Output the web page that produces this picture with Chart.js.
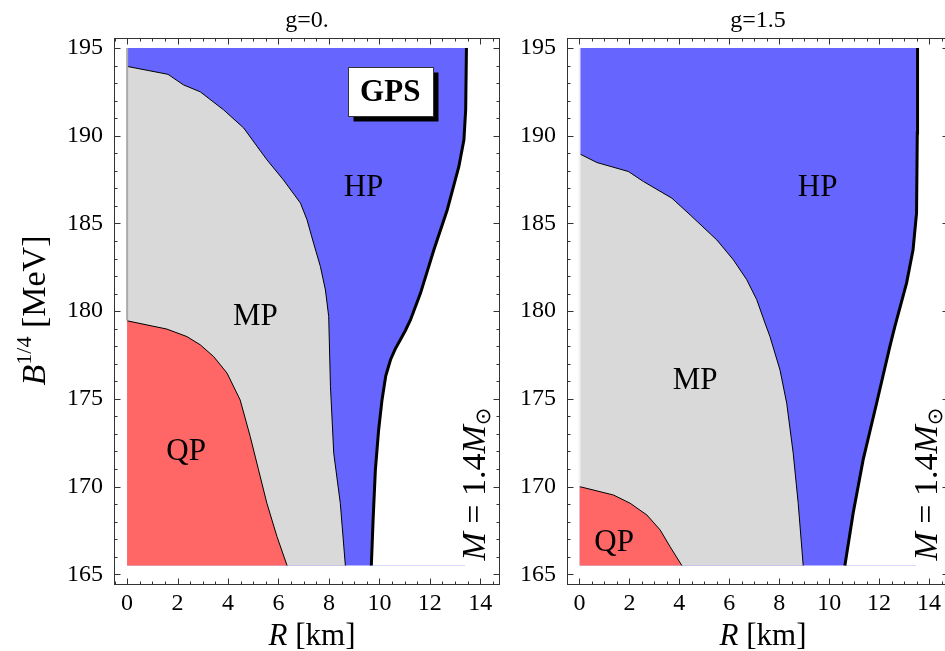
<!DOCTYPE html>
<html>
<head>
<meta charset="utf-8">
<script src="https://cdn.jsdelivr.net/npm/chart.js@4.4.0/dist/chart.umd.min.js"></script>
<style>
  html, body { margin: 0; padding: 0; background: #fff; overflow: hidden; width: 945px; height: 651px; }
  canvas { position: absolute; top: 0; }
  #panel1 { left: 0; }
  #panel2 { left: 453px; }
</style>
</head>
<body>
<canvas id="panel1" width="502" height="651"></canvas>
<canvas id="panel2" width="498" height="651"></canvas>
<script>
// B^(1/4) window covered by the phase regions
const bMin = 165.5;
const bMax = 195;

const xTicks = [0, 2, 4, 6, 8, 10, 12, 14];
const yTicks = [165, 170, 175, 180, 185, 190, 195];

// g = 0.  (R in km, B^(1/4) in MeV)
const qp1R = [0, 1.57, 2.37, 2.9, 3.43, 3.96, 4.48, 4.88, 5.21, 5.54, 5.94, 6.34];
const qp1B = [179.45, 178.98, 178.55, 178.08, 177.41, 176.47, 174.94, 172.85, 170.95, 169.05, 167.15, 165.5];
const mp1R = [0, 1.62, 2.23, 2.9, 3.82, 4.62, 5.54, 6.19, 6.87, 7.13, 7.39, 7.66, 7.86, 7.99, 8.06, 8.19, 8.45, 8.65];
const mp1B = [193.95, 193.5, 192.9, 192.5, 191.48, 190.44, 188.63, 187.49, 186.16, 185.21, 183.88, 182.55, 181.21, 179.7, 175.7, 171.9, 169.05, 165.5];
const hp1R = [9.68, 9.75, 9.84, 9.97, 10.1, 10.25, 10.44, 10.63, 10.83, 11.03, 11.23, 11.63, 12.16, 12.69, 13.15, 13.35, 13.42, 13.45];
const hp1B = [165.5, 168.1, 170.95, 173.24, 174.9, 176.3, 177.23, 177.85, 178.37, 178.9, 179.5, 181.03, 183.5, 185.78, 188.25, 189.77, 191.5, 195];

// g = 1.5
const qp2R = [0, 1.36, 2.03, 2.7, 3.23, 3.63, 4.1];
const qp2B = [170.0, 169.52, 169.05, 168.38, 167.53, 166.57, 165.5];
const mp2R = [0, 0.7, 1.96, 2.56, 3.7, 4.43, 5.5, 6.16, 6.7, 7.1, 7.43, 7.63, 8.03, 8.3, 8.56, 8.76, 8.96];
const mp2B = [188.97, 188.47, 187.96, 187.39, 186.44, 185.49, 184.06, 182.93, 181.79, 180.65, 179.32, 178.55, 176.65, 174.75, 171.9, 169.05, 165.5];
const hp2R = [10.63, 10.96, 11.36, 11.9, 12.43, 12.63, 13.1, 13.36, 13.5, 13.53, 13.54];
const hp2B = [165.5, 168.48, 171.52, 174.75, 177.98, 179.12, 181.6, 183.5, 185.59, 190.15, 195];

const BLUE = '#6666ff';
const GREY = '#d9d9d9';
const RED = '#ff6666';
const SERIF = '"Liberation Serif", "Times New Roman", serif';

const pts = (xs, ys) => xs.map((x, i) => ({ x, y: ys[i] }));

function region(xs, ys, color, line, width, order) {
    return {
        data: pts(xs, ys), backgroundColor: color, borderColor: line, borderWidth: width,
        pointRadius: 0, fill: { value: bMin }, order
    };
}

// text made of several runs (italic, superscript...) centred on cx
function drawParts(ctx, parts, cx, cy, angle) {
    ctx.save();
    ctx.translate(cx, cy);
    ctx.rotate(angle || 0);
    ctx.textAlign = 'left';
    ctx.textBaseline = 'alphabetic';
    let w = 0;
    parts.forEach(p => { ctx.font = p.font; p.w = ctx.measureText(p.text).width; w += p.w; });
    let pos = -w / 2;
    parts.forEach(p => { ctx.font = p.font; ctx.fillText(p.text, pos, p.dy || 0); pos += p.w; });
    ctx.restore();
}

const decor = {
    id: 'decor',
    afterDraw(chart, args, o) {
        const { ctx, chartArea: a, scales: { x, y } } = chart;
        ctx.save();

        // frame with inward ticks on all four sides
        const L = Math.round(a.left) + 0.5, R = Math.round(a.right) - 0.5;
        const T = Math.round(a.top) + 0.5, B = Math.round(a.bottom) - 0.5;
        ctx.strokeStyle = '#333';
        ctx.lineWidth = 1;
        ctx.strokeRect(L, T, R - L, B - T);
        ctx.beginPath();
        for (let k = Math.ceil(x.min * 2); k <= Math.floor(x.max * 2); k++) {
            const v = k / 2;
            const px = Math.round(x.getPixelForValue(v)) + 0.5;
            const len = xTicks.includes(v) ? 6 : 3;
            ctx.moveTo(px, B); ctx.lineTo(px, B - len);
            ctx.moveTo(px, T); ctx.lineTo(px, T + len);
        }
        for (let v = Math.ceil(y.min); v <= Math.floor(y.max); v++) {
            const py = Math.round(y.getPixelForValue(v)) + 0.5;
            const len = yTicks.includes(v) ? 6 : 3;
            ctx.moveTo(L, py); ctx.lineTo(L + len, py);
            ctx.moveTo(R, py); ctx.lineTo(R - len, py);
        }
        ctx.stroke();

        ctx.fillStyle = '#000';
        ctx.textAlign = 'center';
        ctx.textBaseline = 'alphabetic';

        // panel title
        ctx.font = '24px ' + SERIF;
        ctx.fillText(o.title, (a.left + a.right) / 2, 27);

        // phase labels
        ctx.font = '31px ' + SERIF;
        o.labels.forEach(l => ctx.fillText(l.text, x.getPixelForValue(l.x), y.getPixelForValue(l.y)));

        if (o.gps) {
            const cx = x.getPixelForValue(o.gps.x), cy = y.getPixelForValue(o.gps.y);
            const w = 85, h = 49;
            const bx = Math.round(cx - w / 2) + 0.5, by = Math.round(cy - h / 2) + 0.5;
            ctx.fillStyle = '#000';
            ctx.fillRect(bx + 5, by + 5, w, h);
            ctx.fillStyle = '#fff';
            ctx.fillRect(bx, by, w, h);
            ctx.strokeStyle = '#333';
            ctx.strokeRect(bx, by, w, h);
            ctx.fillStyle = '#000';
            ctx.font = 'bold 31px ' + SERIF;
            ctx.textBaseline = 'middle';
            ctx.fillText('GPS', cx, cy + 1);
        }

        // M = 1.4 M_sun, written upwards
        drawParts(ctx, [
            { text: 'M', font: 'italic 34px ' + SERIF },
            { text: ' = 1.4', font: '34px ' + SERIF },
            { text: 'M', font: 'italic 34px ' + SERIF },
            { text: '\u2299', font: '21px "DejaVu Sans"', dy: 5 }
        ], x.getPixelForValue(o.mass.x), y.getPixelForValue(o.mass.y), -Math.PI / 2);

        // axis titles
        drawParts(ctx, [
            { text: 'R', font: 'italic 31px ' + SERIF },
            { text: ' [km]', font: '31px ' + SERIF }
        ], (a.left + a.right) / 2 + 5, 645, 0);
        if (o.yTitle) {
            drawParts(ctx, [
                { text: 'B', font: 'italic 34px ' + SERIF },
                { text: '1/4', font: '22px ' + SERIF, dy: -14 },
                { text: ' [MeV]', font: '34px ' + SERIF }
            ], 45, (a.top + a.bottom) / 2 - 1, -Math.PI / 2);
        }
        ctx.restore();
    }
};

function makePanel(id, qpR, qpB, mpR, mpB, hpR, hpB, xRange, edgeColor, extra) {
    // HP background; its right edge is tucked under the thick edge line
    const top = [{ x: 0, y: bMax }, { x: hpR[hpR.length - 1] - 0.05, y: bMax }];
    return new Chart(document.getElementById(id), {
        type: 'line',
        data: {
            datasets: [
                { data: top, backgroundColor: BLUE, borderWidth: 0, pointRadius: 0, fill: { value: bMin }, order: 6 },
                region(hpR, hpB, '#ffffff', '#000', 3, 5),
                region(mpR, mpB, GREY, '#000', 1, 4),
                region(qpR, qpB, RED, '#000', 1, 3),
                { data: [{ x: 0, y: qpB[0] }, { x: 0, y: bMax }], borderColor: edgeColor, borderWidth: 2, pointRadius: 0, fill: false, order: 2 }
            ]
        },
        options: {
            responsive: false,
            animation: false,
            devicePixelRatio: 1,
            layout: { padding: { top: 38, right: 2, left: 0, bottom: 0 } },
            plugins: { legend: { display: false }, tooltip: { enabled: false }, decor: extra },
            scales: {
                x: {
                    type: 'linear', min: xRange[0], max: xRange[1],
                    grid: { display: false, drawTicks: false }, border: { display: false },
                    ticks: { font: { family: SERIF, size: 24 }, color: '#000', padding: 4, maxRotation: 0, autoSkip: false },
                    afterBuildTicks: s => { s.ticks = xTicks.map(v => ({ value: v })); },
                    afterFit: s => { s.height = 66; }
                },
                y: {
                    type: 'linear', min: 164.39, max: 195.57,
                    grid: { display: false, drawTicks: false }, border: { display: false },
                    ticks: { font: { family: SERIF, size: 24 }, color: '#000', padding: 11 },
                    afterBuildTicks: s => { s.ticks = yTicks.map(v => ({ value: v })); },
                    afterFit: s => { s.width = 114; }
                }
            }
        },
        plugins: [decor]
    });
}

makePanel('panel1', qp1R, qp1B, mp1R, mp1B, hp1R, hp1B, [-0.52, 14.78], '#aaaaaa', {
    title: 'g=0.',
    yTitle: true,
    gps: { x: 10.43, y: 192.51 },
    mass: { x: 14.2, y: 170.14 },
    labels: [
        { text: 'HP', x: 9.37, y: 186.57 },
        { text: 'MP', x: 5.08, y: 179.22 },
        { text: 'QP', x: 2.34, y: 171.51 }
    ]
});

makePanel('panel2', qp2R, qp2B, mp2R, mp2B, hp2R, hp2B, [-0.5, 14.8], '#f2f2f2', {
    title: 'g=1.5',
    yTitle: false,
    gps: null,
    mass: { x: 14.3, y: 170.14 },
    labels: [
        { text: 'HP', x: 9.54, y: 186.57 },
        { text: 'MP', x: 4.63, y: 175.56 },
        { text: 'QP', x: 1.39, y: 166.34 }
    ]
});
</script>
</body>
</html>
